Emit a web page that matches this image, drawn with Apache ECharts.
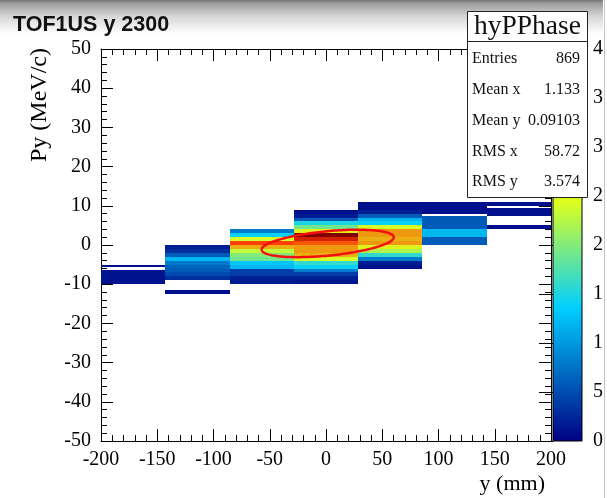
<!DOCTYPE html>
<html><head><meta charset="utf-8">
<script src="https://cdn.jsdelivr.net/npm/echarts/dist/echarts.min.js"></script>
<style>html,body{margin:0;padding:0;background:#fff}#c{width:607px;height:498px}</style>
</head><body><div id="c"></div>
<script>
// ---- data ----
const xBinEdges = [-200, -142.857, -85.714, -28.571, 28.571, 85.714, 142.857, 200];
// each x bin: list of [yLow, yHigh, entries]
const col1 = [[-10,-6.5,1.2],[-5.5,-5,1]];
const col2 = [[-1,0,2],[-2,-1,3],[-3,-2,6],[-4,-3,12],[-5,-4,8],[-6,-5,6.5],[-7,-6,6],[-8,-7,5],[-9,-8,3],[-12.5,-11.5,1]];
const col3 = [[3,4,8],[2,3,14],[1,2,24],[0,1,33],[-1,0,28],[-2,-1,23],[-3,-2,20],[-4,-3,19],[-5,-4,13],[-6,-5,12],[-7,-6,4],[-8,-7,4],[-9,-8,2],[-10,-9,2]];
const col4 = [[8,9,1],[7,8,2],[6,7,6],[5,6,15],[4,5,19],[3,4,25],[2,3,40],[1,2,36],[0,1,32],[-1,0,29],[-2,-1,29],[-3,-2,28],[-4,-3,24],[-5,-4,16],[-6,-5,14],[-7,-6,8],[-8,-7,4],[-9,-8,2],[-10,-9,1.5]];
const col5 = [[10,11,1],[9,10,1],[8,9,2],[7,8,6],[6,7,12],[5,6,14],[4,5,24],[3,4,29],[2,3,29],[1,2,28],[0,1,29],[-1,0,25],[-2,-1,22],[-3,-2,16],[-4,-3,8],[-5,-4,2],[-6,-5,1]];
const col6 = [[8,11,1],[4,7.5,6],[2,4,12],[0,2,6]];
const col7 = [[10,11,1],[7.5,9.5,1],[4,5,1]];
const columns = [col1, col2, col3, col4, col5, col6, col7];

const zMax = 40;
const paletteStops = [0, 0.34, 0.61, 0.84, 1];
const paletteColors = [[0,0,130],[0,207,255],[222,255,31],[255,51,0],[130,0,0]];

const statsTitle = 'hyPPhase';
const statsLabels = ['Entries', 'Mean x', 'Mean y', 'RMS x', 'RMS y'];
const statsValues = ['869', '1.133', '0.09103', '58.72', '3.574'];
// 1-sigma ellipse
const ellipseCenter = [1.5, 0.4];
const ellipseSigma = [58.72, 3.5];
const ellipseRho = 0.45;

const titleText = 'TOF1US y 2300';
const xTitle = 'y (mm)';
const yTitle = 'Py (MeV/c)';

// ---- helpers ----
function colorFor(v) {
  let f = Math.max(0, Math.min(1, v / zMax));
  let i = 0;
  while (i < paletteStops.length - 2 && f > paletteStops[i + 1]) i++;
  const t = (f - paletteStops[i]) / (paletteStops[i + 1] - paletteStops[i]);
  const a = paletteColors[i], b = paletteColors[i + 1];
  const c = a.map((ai, k) => Math.round(ai + (b[k] - ai) * t));
  return 'rgb(' + c.join(',') + ')';
}
const cells = [];
columns.forEach((col, i) => col.forEach(s => cells.push([xBinEdges[i], xBinEdges[i + 1], s[0], s[1], s[2]])));

const serif = '"Liberation Serif", "Times New Roman", serif';
const G = { left: 101, top: 49, width: 450, height: 392 };

function axisBase(extra) {
  return Object.assign({
    axisLine: { show: true, onZero: false, lineStyle: { color: '#000', width: 1 } },
    axisTick: { show: true, inside: true, length: 12, lineStyle: { color: '#000', width: 1 } },
    minorTick: { show: true, splitNumber: 5, length: 6, lineStyle: { color: '#000', width: 1 } },
    splitLine: { show: false },
  }, extra);
}
const labelStyle = { color: '#000', fontFamily: serif, fontSize: 20, showMinLabel: true, showMaxLabel: true };

const chart = echarts.init(document.getElementById('c'), null, { renderer: 'canvas' });
const option = {
  animation: false,
  backgroundColor: '#fff',
  grid: [
    { left: G.left, top: G.top, width: G.width, height: G.height, containLabel: false, outerBoundsMode: 'none' },
    { left: 553, top: G.top, width: 29, height: G.height, containLabel: false, outerBoundsMode: 'none' }
  ],
  xAxis: [
    axisBase({ type: 'value', gridIndex: 0, min: -200, max: 200, interval: 50, position: 'bottom',
      axisLabel: Object.assign({ margin: 9 }, labelStyle) }),
    axisBase({ type: 'value', gridIndex: 0, min: -200, max: 200, interval: 50, position: 'top',
      axisLabel: { show: false } }),
    { type: 'value', gridIndex: 1, min: 0, max: 1, show: false }
  ],
  yAxis: [
    axisBase({ type: 'value', gridIndex: 0, min: -50, max: 50, interval: 10, position: 'left',
      axisLabel: Object.assign({ margin: 10 }, labelStyle) }),
    axisBase({ type: 'value', gridIndex: 0, min: -50, max: 50, interval: 10, position: 'right',
      axisLabel: { show: false } }),
    { type: 'value', gridIndex: 1, min: 0, max: zMax, interval: 5, position: 'right',
      axisLine: { show: true, lineStyle: { color: '#000' } },
      axisTick: { show: true, inside: true, length: 14, lineStyle: { color: '#000' } },
      splitLine: { show: false },
      axisLabel: Object.assign({ margin: 11 }, labelStyle) }
  ],
  series: [
    {
      type: 'custom', xAxisIndex: 0, yAxisIndex: 0, clip: true,
      encode: { x: [0, 1], y: [2, 3] },
      data: cells,
      renderItem: function (params, api) {
        const p0 = api.coord([api.value(0), api.value(3)]);
        const p1 = api.coord([api.value(1), api.value(2)]);
        const x0 = Math.round(p0[0]), x1 = Math.round(p1[0]);
        const y0 = Math.round(p0[1]), y1 = Math.round(p1[1]);
        return { type: 'rect', shape: { x: x0, y: y0, width: x1 - x0, height: Math.max(1, y1 - y0) },
          style: { fill: colorFor(api.value(4)) } };
      }
    },
    {
      type: 'custom', xAxisIndex: 0, yAxisIndex: 0, clip: true, z: 5,
      data: [[ellipseCenter[0], ellipseCenter[1]]],
      renderItem: function (params, api) {
        const pts = [];
        const phi = Math.acos(ellipseRho);
        for (let k = 0; k <= 180; k++) {
          const t = k / 180 * Math.PI * 2;
          pts.push(api.coord([api.value(0) + ellipseSigma[0] * Math.cos(t),
                              api.value(1) + ellipseSigma[1] * Math.cos(t - phi)]));
        }
        return { type: 'polygon', shape: { points: pts },
          style: { fill: 'none', stroke: '#f51010', lineWidth: 2.5 } };
      }
    },
    {
      type: 'custom', xAxisIndex: 2, yAxisIndex: 2, z: 1,
      data: [[0, 0]],
      renderItem: function (params, api) {
        const a = api.coord([0, zMax]);
        const b = api.coord([1, 0]);
        const stops = paletteStops.map((s, i) => ({ offset: 1 - s, color: 'rgb(' + paletteColors[i].join(',') + ')' })).reverse();
        return { type: 'rect', shape: { x: a[0], y: a[1], width: b[0] - a[0], height: b[1] - a[1] },
          style: { fill: new echarts.graphic.LinearGradient(0, 0, 0, 1, stops), stroke: '#000', lineWidth: 1 } };
      }
    }
  ],
  graphic: [
    { type: 'rect', z: -10, silent: true, shape: { x: 0, y: 0, width: 607, height: 34 },
      style: { fill: new echarts.graphic.LinearGradient(0, 0, 0, 1, [
        { offset: 0, color: '#767676' }, { offset: 0.1, color: '#9c9c9c' }, { offset: 0.5, color: '#d8d8d8' }, { offset: 1, color: '#ffffff' }]) } },
    { type: 'rect', z: 200, silent: true, shape: { x: 603, y: 0, width: 4, height: 498 }, style: { fill: '#fff' } },
    { type: 'line', z: 201, silent: true, shape: { x1: 604.5, y1: 0, x2: 604.5, y2: 498 }, style: { stroke: '#c4c4c4', lineWidth: 1 } },
    { type: 'text', z: 100, style: { x: 13, y: 25, text: titleText, font: 'bold 21.5px "Liberation Sans", Arial, sans-serif', fill: '#111', verticalAlign: 'middle' } },
    { type: 'text', z: 100, style: { x: 545, y: 484, text: xTitle, font: '22px ' + serif, fill: '#000', align: 'right', verticalAlign: 'middle' } },
    { type: 'text', z: 100, x: 40, y: 48, rotation: Math.PI / 2,
      style: { x: 0, y: 0, text: yTitle, font: '24px ' + serif, fill: '#000', align: 'right', verticalAlign: 'middle' } },
    { type: 'group', z: 100, children: [
      { type: 'rect', z: 100, shape: { x: 467.5, y: 11.5, width: 120, height: 186 }, style: { fill: '#fff', stroke: '#222', lineWidth: 1 } },
      { type: 'line', z: 101, shape: { x1: 467.5, y1: 41.5, x2: 587.5, y2: 41.5 }, style: { stroke: '#222', lineWidth: 1 } },
      { type: 'text', z: 101, style: { x: 527.5, y: 27, text: statsTitle, font: '27.5px ' + serif, fill: '#111', align: 'center', verticalAlign: 'middle' } }
    ].concat(statsLabels.map((l, i) => ({ type: 'text', z: 101, style: { x: 472, y: 59 + i * 30.8, text: l, font: '16px ' + serif, fill: '#111', verticalAlign: 'middle' } })))
     .concat(statsValues.map((v, i) => ({ type: 'text', z: 101, style: { x: 580, y: 59 + i * 30.8, text: v, font: '16px ' + serif, fill: '#111', align: 'right', verticalAlign: 'middle' } })))
    }
  ]
};
chart.setOption(option);
</script></body></html>
